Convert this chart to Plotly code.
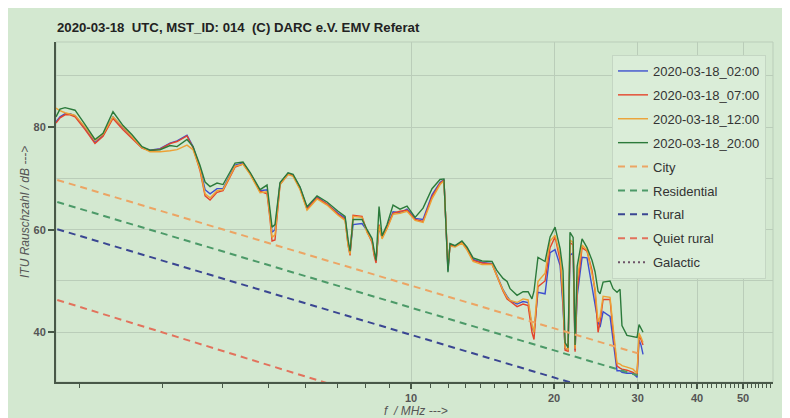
import plotly.graph_objects as go

# ---------------- data ----------------
freq_mhz = [1.789, 1.824, 1.869, 1.915, 1.962, 2.060, 2.161, 2.247, 2.358, 2.476,
            2.586, 2.715, 2.822, 2.962, 3.109, 3.217, 3.376, 3.476, 3.596, 3.685,
            3.775, 3.905, 4.020, 4.261, 4.429, 4.583, 4.810, 4.976, 5.049, 5.098,
            5.172, 5.299, 5.510, 5.645, 5.840, 6.041, 6.340, 6.655, 7.021, 7.264,
            7.370, 7.441, 7.550, 7.886, 8.081, 8.279, 8.360, 8.441, 8.564, 8.689,
            8.903, 9.165, 9.480, 9.808, 10.20, 10.60, 11.07, 11.51, 11.73, 11.85,
            11.96, 12.08, 12.38, 12.80, 13.12, 13.51, 14.11, 14.81, 15.17, 15.62,
            15.93, 16.16, 16.72, 17.21, 17.64, 17.97, 18.15, 18.50, 19.15, 19.62,
            20.10, 20.60, 20.89, 21.10, 21.41, 21.61, 21.94, 22.15, 22.37, 22.91,
            23.47, 24.05, 24.40, 24.76, 25.00, 25.37, 26.24, 26.63, 27.14, 27.54,
            27.80, 28.48, 29.33, 29.91, 30.20, 30.49, 30.79]

db_0200 = [81.0, 82.0, 82.6, 82.6, 82.2, 79.8, 77.0, 78.4, 82.0, 79.8,
           78.0, 76.0, 75.5, 75.8, 76.9, 77.3, 78.4, 76.2, 72.0, 67.8,
           67.0, 68.0, 68.0, 72.6, 73.0, 71.0, 67.6, 67.8, 63.0, 59.5,
           60.0, 69.0, 71.0, 70.6, 68.2, 64.2, 66.4, 65.0, 63.2, 62.3,
           57.5, 55.5, 61.0, 61.2, 59.8, 58.0, 55.5, 54.0, 60.5, 58.6,
           60.5, 63.5, 63.3, 64.0, 62.2, 62.0, 66.8, 69.2, 69.8, 60.0,
           52.0, 57.2, 56.8, 57.6, 56.4, 54.2, 53.6, 53.4, 51.2, 48.3,
           47.0, 46.2, 45.5, 46.0, 45.8, 41.0, 40.0, 47.8, 47.5, 55.5,
           56.1, 53.0, 45.0, 36.8, 36.5, 55.0, 55.5, 36.5, 47.0, 54.6,
           54.5, 48.9, 46.0, 42.0, 41.0, 44.0, 43.1, 38.0, 32.5, 32.5,
           32.2, 32.0, 32.0, 31.2, 38.5, 37.5, 35.7]

db_0700 = [80.8, 81.8, 82.4, 82.4, 82.0, 79.5, 76.8, 78.2, 81.7, 79.5,
           77.8, 75.9, 75.4, 75.7, 76.8, 77.2, 78.3, 76.0, 71.5, 66.6,
           65.8, 67.3, 67.6, 72.2, 72.8, 71.0, 67.5, 67.0, 62.0, 57.8,
           58.0, 68.8, 70.8, 70.6, 68.0, 64.0, 66.2, 65.0, 63.0, 62.0,
           57.0, 55.0, 62.8, 62.6, 59.6, 57.5, 55.0, 53.5, 61.0, 58.4,
           60.4, 63.2, 63.6, 63.8, 62.0, 61.6, 66.4, 69.0, 69.7, 60.0,
           52.5, 57.0, 56.8, 57.5, 56.2, 54.0, 53.5, 53.3, 51.0, 48.0,
           46.5, 46.0, 45.0, 45.5, 45.2, 40.0, 38.6, 48.9, 50.0, 56.5,
           58.6, 54.0, 46.0, 36.5, 36.3, 57.5, 57.0, 36.2, 48.0, 56.5,
           55.8, 52.0, 48.0, 40.0, 42.0, 46.4, 46.4, 40.0, 33.4, 33.0,
           32.8, 32.6, 32.2, 31.6, 39.3, 38.6, 37.5]

db_1200 = [83.7, 83.2, 82.8, 82.6, 82.3, 80.0, 77.4, 78.6, 82.0, 80.0,
           78.2, 76.0, 75.2, 75.2, 75.4, 75.6, 76.5, 75.6, 71.8, 67.0,
           66.2, 67.6, 67.8, 72.4, 72.8, 70.8, 67.2, 67.4, 62.5, 58.5,
           59.0, 68.8, 70.8, 70.4, 67.8, 63.8, 66.0, 64.8, 62.8, 61.8,
           57.0, 55.2, 62.6, 62.4, 59.4, 57.8, 55.5, 54.2, 60.8, 58.2,
           60.2, 63.0, 63.2, 63.6, 61.8, 61.4, 66.0, 68.8, 69.5, 60.0,
           52.8, 56.8, 56.6, 57.4, 56.0, 53.8, 53.2, 53.2, 50.8, 48.2,
           46.8, 46.2, 45.8, 46.5, 46.3, 41.5, 40.0, 49.9, 51.5, 57.8,
           58.9, 55.0, 47.0, 37.0, 36.5, 58.0, 57.5, 36.8, 50.0, 57.0,
           56.0, 51.0, 48.5, 42.0, 43.0, 47.0, 46.8, 41.0, 34.0, 33.8,
           33.5, 33.2, 32.8, 32.0, 39.8, 39.0, 38.0]

db_2000 = [82.0, 83.5, 83.8, 83.6, 83.3, 80.5, 77.6, 78.8, 83.0, 80.3,
           78.5, 76.2, 75.5, 75.6, 76.4, 76.2, 77.6, 76.2, 72.5, 69.3,
           68.4, 69.1, 68.8, 73.0, 73.2, 71.2, 67.8, 68.7, 64.0, 60.5,
           61.0, 69.2, 71.1, 70.8, 68.3, 64.5, 66.6, 65.4, 63.6, 62.6,
           58.0, 55.8, 62.0, 62.0, 60.0, 58.3, 56.0, 54.0, 64.5, 58.8,
           61.0, 64.8, 64.0, 64.6, 62.4, 64.2, 68.0, 69.8, 69.9, 60.0,
           51.7, 57.3, 56.9, 57.8, 56.6, 54.5, 53.9, 53.8, 52.0, 50.5,
           49.9, 48.5, 47.2, 47.9, 47.9, 46.5, 48.0, 54.6, 53.8, 58.6,
           60.5, 56.3, 52.0, 38.0, 37.0, 59.5, 58.5, 37.5, 52.8, 58.2,
           56.5, 54.0, 51.8, 48.0, 47.5, 49.8, 50.0, 48.5, 47.8, 48.4,
           41.3, 39.4, 39.2, 39.0, 41.5, 40.8, 40.0]

series_names = ["2020-03-18_02:00", "2020-03-18_07:00",
                "2020-03-18_12:00", "2020-03-18_20:00"]
series_values = [db_0200, db_0700, db_1200, db_2000]
series_colors = ["#3d4fcf", "#e4442c", "#eda134", "#2b7a3b"]

# ITU-R P.372 reference levels, read at the ends of each dashed line
ref_names = ["City", "Residential", "Rural", "Quiet rural", "Galactic"]
ref_freq = [[1.8, 30.0], [1.8, 30.0], [1.8, 30.0], [1.8, 30.0], [10.0, 30.0]]
ref_db = [[69.7, 35.9], [65.4, 31.6], [60.1, 26.3], [46.3, 11.4], [29.0, 18.0]]
ref_colors = ["#eca564", "#4c9a68", "#3a4692", "#e2725c", "#6e5468"]
ref_dash = ["7px,5px", "7px,5px", "7px,5px", "7px,5px", "2px,3px"]

x_major = [10, 20, 30, 40, 50]
x_minor = [v for v in range(2, 58) if v not in x_major]
y_ticks = [40, 60, 80]
y_grid = [30, 40, 50, 60, 70, 80, 90]

title_text = "2020-03-18\u00a0\u00a0UTC, MST_ID: 014\u00a0\u00a0(C) DARC e.V. EMV Referat"

# ---------------- figure ----------------
BG = "rgb(211,232,208)"
GRID = "rgb(186,205,185)"
AXIS = "rgb(72,88,72)"
FONT = "Liberation Sans, Arial, sans-serif"

fig = go.Figure()

for i, (name, vals, col) in enumerate(zip(series_names, series_values, series_colors)):
    fig.add_trace(go.Scatter(x=freq_mhz, y=vals, name=name, mode="lines",
                             legendgroup="g%d" % i,
                             line=dict(color=col, width=1.4)))

for i, (name, fx, fy, col, dash) in enumerate(zip(ref_names, ref_freq, ref_db, ref_colors, ref_dash)):
    fig.add_trace(go.Scatter(x=fx, y=fy, name=name, mode="lines",
                             legendgroup="r%d" % i,
                             line=dict(color=col, width=2, dash=dash)))

W, H = 790, 418
ml, mr, mt, mb = 48, 25, 34, 44
pw, ph = W - ml - mr, H - mt - mb

def px_x(p):
    return (p - ml) / pw

def px_y(p):
    return (H - mb - p) / ph

fig.update_layout(
    width=W, height=H,
    margin=dict(l=ml, r=mr, t=mt, b=mb),
    paper_bgcolor=BG, plot_bgcolor=BG,
    font=dict(family=FONT, color="#444"),
    title=dict(text="<b>" + title_text + "</b>", x=px_x(49), xref="paper",
               xanchor="left", y=1 - 19 / H, yref="container", yanchor="middle",
               font=dict(size=13.2, color="#222", family=FONT)),
    showlegend=True,
    legend=dict(x=px_x(604), y=px_y(47), xanchor="left", yanchor="top",
                bgcolor="rgb(218,237,216)", bordercolor="rgb(196,214,195)",
                borderwidth=1, font=dict(size=13, color="#333", family=FONT),
                itemwidth=30, tracegroupgap=4),
    xaxis=dict(type="log", range=[0.2526, 1.762],
               tickmode="array", tickvals=x_major,
               ticktext=["<b>%d</b>" % v for v in x_major],
               ticks="outside", ticklen=5, tickwidth=1.5, tickcolor=AXIS,
               tickfont=dict(size=11, color="#555"),
               showgrid=True, gridcolor=GRID, gridwidth=1,
               showline=True, linecolor=AXIS, linewidth=2, zeroline=False,
               minor=dict(tickmode="array", tickvals=x_minor, ticks="outside",
                          ticklen=4, tickwidth=1.2, tickcolor=AXIS, showgrid=False)),
    yaxis=dict(range=[30.3, 96.6],
               tickmode="array", tickvals=y_ticks,
               ticktext=["<b>%d</b>" % v for v in y_ticks],
               ticks="outside", ticklen=6, tickwidth=1.5, tickcolor=AXIS,
               tickfont=dict(size=11, color="#555"),
               showgrid=False,
               showline=True, linecolor=AXIS, linewidth=2, zeroline=False,
               minor=dict(tickmode="array", tickvals=y_grid, ticks="",
                          showgrid=True, gridcolor=GRID, gridwidth=1)),
    shapes=[
        dict(type="rect", xref="paper", yref="paper", x0=0, x1=1, y0=0, y1=1,
             line=dict(color=GRID, width=1), fillcolor="rgba(0,0,0,0)", layer="below"),
    ],
    annotations=[
        dict(text="<i>ITU Rauschzahl / dB ---></i>", xref="paper", yref="paper",
             x=px_x(17), y=0.5, xanchor="center", yanchor="middle", textangle=-90,
             showarrow=False, font=dict(size=12, color="#555", family=FONT)),
        dict(text="<i>f  / MHz ---></i>", xref="paper", yref="paper",
             x=px_x(408), y=px_y(403), xanchor="center", yanchor="middle",
             showarrow=False, font=dict(size=12, color="#555", family=FONT)),
    ],
)

fig.write_html("out.html")
